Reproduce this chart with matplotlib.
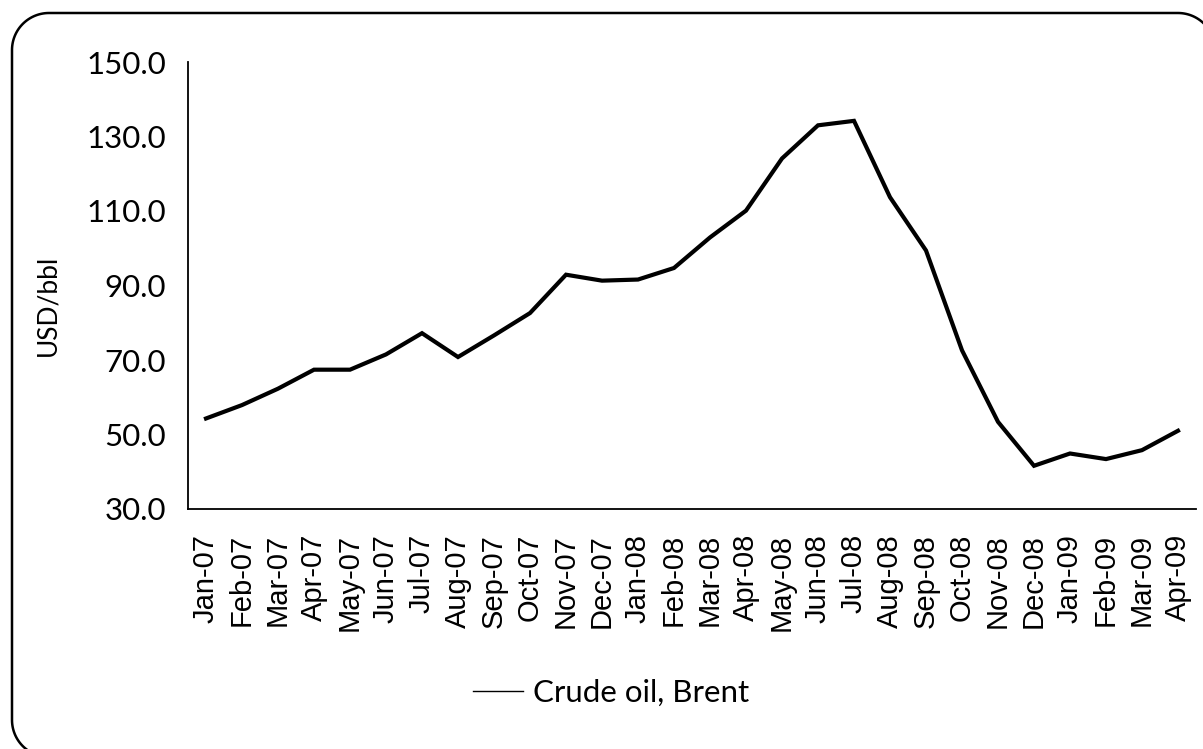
import numpy as np
import matplotlib
matplotlib.use("Agg")
import matplotlib.pyplot as plt
from matplotlib.lines import Line2D
from matplotlib.transforms import IdentityTransform

months = ["Jan-07", "Feb-07", "Mar-07", "Apr-07", "May-07", "Jun-07", "Jul-07",
          "Aug-07", "Sep-07", "Oct-07", "Nov-07", "Dec-07", "Jan-08", "Feb-08",
          "Mar-08", "Apr-08", "May-08", "Jun-08", "Jul-08", "Aug-08", "Sep-08",
          "Oct-08", "Nov-08", "Dec-08", "Jan-09", "Feb-09", "Mar-09", "Apr-09"]
brent = [54.3, 57.9, 62.3, 67.4, 67.4, 71.5, 77.2, 70.8, 76.6, 82.6, 92.9, 91.3,
         91.6, 94.7, 102.9, 110.1, 124.1, 133.0, 134.2, 113.7, 99.4, 72.6, 53.4,
         41.6, 44.9, 43.4, 45.8, 51.0]
yticks = [30, 50, 70, 90, 110, 130, 150]

W, H = 1203, 749
fig = plt.figure(figsize=(W / 100, H / 100), dpi=100)

# rounded chart-area border in pixels, drawn as an open path so the
# parts running off the right / bottom edges are simply cut away
x0, x1, ytop, ybot, r = 12, 1215, H - 13, H - 757, 37
def arc(cx, cy, a0, a1):
    t = np.radians(np.linspace(a0, a1, 30))
    return cx + r * np.cos(t), cy + r * np.sin(t)
bx1, by1 = arc(x0 + r, ybot + r, 270, 180)    # bottom-left
bx2, by2 = arc(x0 + r, ytop - r, 180, 90)     # top-left
bx3, by3 = arc(x1 - r, ytop - r, 90, 0)       # top-right
bx = np.concatenate([bx1, bx2, bx3])
by = np.concatenate([by1, by2, by3])
fig.lines.append(Line2D(bx, by, transform=IdentityTransform(), color="black",
                        linewidth=1.8, figure=fig))

ax = fig.add_axes([188 / W, 1 - 509 / H, (1196 - 188) / W, (509 - 62) / H])

x = np.arange(len(months))
ax.plot(x, brent, color="black", linewidth=3, label="Crude oil, Brent",
        solid_joinstyle="miter")

ax.set_xlim(-0.5, len(months) - 0.5)
ax.set_ylim(30, 150)
ax.set_yticks(yticks)
ax.set_yticklabels(["%.1f" % v for v in yticks], fontfamily="Lato", fontsize=22.5)
ax.set_xticks(x)
ax.set_xticklabels(months, rotation=90, fontfamily="Liberation Sans", fontsize=21)
ax.tick_params(axis="y", length=0, pad=16)
ax.tick_params(axis="x", length=0, pad=18)

for s in ["top", "right"]:
    ax.spines[s].set_visible(False)
for s in ["left", "bottom"]:
    ax.spines[s].set_linewidth(1.3)

ax.set_ylabel("USD/bbl", fontfamily="Lato", fontsize=19)
ax.yaxis.set_label_coords(-0.127, 0.456)

leg = fig.legend(handles=[Line2D([], [], color="black", linewidth=1)],
                 labels=["Crude oil, Brent"], loc="center",
                 bbox_to_anchor=(611 / W, 1 - 693 / H), frameon=False,
                 prop={"family": "Lato", "size": 22.5}, handlelength=1.6,
                 handletextpad=0.3)

fig.savefig("out.png", dpi=100)
